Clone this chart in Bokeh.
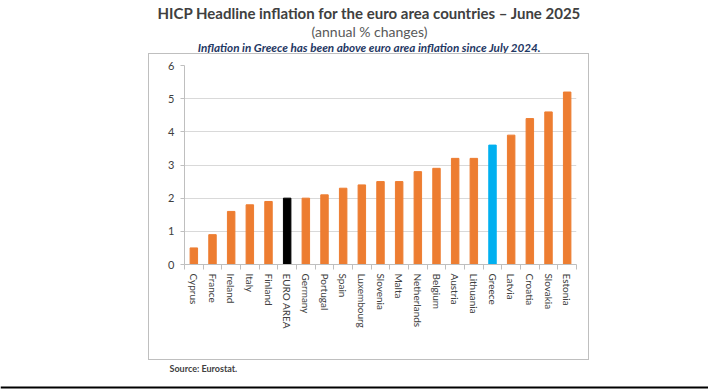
from bokeh.plotting import figure
from bokeh.models import ColumnDataSource, FixedTicker, Label, BoxAnnotation, Range1d, Spacer
from bokeh.layouts import column, row
from bokeh.embed import file_html
from bokeh.resources import INLINE

countries = ["Cyprus", "France", "Ireland", "Italy", "Finland", "EURO AREA", "Germany",
             "Portugal", "Spain", "Luxembourg", "Slovenia", "Malta", "Netherlands",
             "Belgium", "Austria", "Lithuania", "Greece", "Latvia", "Croatia",
             "Slovakia", "Estonia"]
inflation = [0.5, 0.9, 1.6, 1.8, 1.9, 2.0, 2.0, 2.1, 2.3, 2.4, 2.5, 2.5, 2.8,
             2.9, 3.2, 3.2, 3.6, 3.9, 4.4, 4.6, 5.2]
y_ticks = [0, 1, 2, 3, 4, 5, 6]

title_text = "HICP Headline inflation for the euro area countries \u2013 June 2025"
subtitle_text = "(annual % changes)"
note_text = "Inflation in Greece has been above euro area inflation since July 2024."
source_text = "Source: Eurostat."

ORANGE = "#ED7D31"
def color_for(c):
    if c == "EURO AREA":
        return "#000000"
    if c == "Greece":
        return "#00B0F0"
    return ORANGE

FONT = "Lato"
PAGE_W = 708

# ---------- header ----------
HEAD_H = 53
head = figure(width=PAGE_W, height=HEAD_H, output_backend="svg", toolbar_location=None,
              x_range=Range1d(0, PAGE_W), y_range=Range1d(HEAD_H, 0),
              x_axis_type=None, y_axis_type=None, min_border=0)
head.grid.visible = False
head.outline_line_color = None
head.add_layout(Label(x=369, y=12, text=title_text, text_align="center",
                      text_baseline="middle", text_font=FONT, text_font_style="bold",
                      text_font_size="15px", text_color="#404040"))
head.add_layout(Label(x=369, y=31, text=subtitle_text, text_align="center",
                      text_baseline="middle", text_font=FONT,
                      text_font_size="14px", text_color="#595959"))
head.add_layout(Label(x=369, y=46, text=note_text, text_align="center",
                      text_baseline="middle", text_font=FONT, text_font_style="bold italic",
                      text_font_size="11.7px", text_color="#1F3864"))

# ---------- main chart ----------
n = len(countries)
xs = [i + 0.5 for i in range(n)]
src = ColumnDataSource(dict(x=xs, y=inflation, name=countries,
                            color=[color_for(c) for c in countries]))

p = figure(width=441, height=307, output_backend="svg", toolbar_location=None,
           x_range=Range1d(0, n), y_range=Range1d(0, 6),
           min_border_left=35, min_border_right=14,
           min_border_top=11, min_border_bottom=97,
           styles={"border": "1px solid #BFBFBF", "box-sizing": "border-box"})
p.outline_line_color = None

p.vbar(x="x", top="y", width=0.4, color="color", source=src)

xa = p.xaxis[0]
xa.ticker = FixedTicker(ticks=xs, minor_ticks=list(range(n + 1)))
xa.major_label_overrides = {x: c for x, c in zip(xs, countries)}
xa.major_label_orientation = "vertical"
xa.major_tick_line_color = None
xa.minor_tick_line_color = "#BFBFBF"
xa.minor_tick_out = 5
xa.minor_tick_in = 0
xa.axis_line_color = "#BFBFBF"
xa.major_label_text_font = FONT
xa.major_label_text_font_size = "10px"
xa.major_label_text_color = "#404040"
xa.major_label_standoff = 3

ya = p.yaxis[0]
ya.ticker = FixedTicker(ticks=y_ticks)
ya.axis_line_color = "#BFBFBF"
ya.major_tick_line_color = "#BFBFBF"
ya.major_tick_out = 4
ya.major_tick_in = 0
ya.minor_tick_line_color = None
ya.major_label_text_font = FONT
ya.major_label_text_font_size = "11px"
ya.major_label_text_color = "#404040"
ya.major_label_standoff = 6

p.xgrid.grid_line_color = None
p.ygrid.grid_line_color = "#D9D9D9"
p.ygrid.ticker = FixedTicker(ticks=y_ticks)

# ---------- footer ----------
FOOT_TOP, FOOT_H = 360, 30
foot = figure(width=PAGE_W, height=FOOT_H, output_backend="svg", toolbar_location=None,
              x_range=Range1d(0, PAGE_W), y_range=Range1d(FOOT_TOP + FOOT_H, FOOT_TOP),
              x_axis_type=None, y_axis_type=None, min_border=0)
foot.grid.visible = False
foot.outline_line_color = None
foot.add_layout(Label(x=169, y=368, text=source_text, text_align="left",
                      text_baseline="middle", text_font=FONT, text_font_style="bold",
                      text_font_size="9px", text_color="#404040"))
foot.add_layout(BoxAnnotation(left=0, right=PAGE_W, top=386, bottom=388,
                              fill_color="#000000", fill_alpha=1, line_color=None))

layout = column(head, row(Spacer(width=148, height=307), p), foot, spacing=0)

open("out.html", "w").write(file_html(layout, INLINE))
